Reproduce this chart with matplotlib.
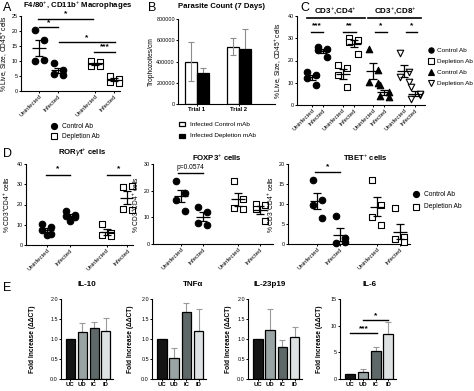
import numpy as np
import matplotlib
matplotlib.use('Agg')
import matplotlib.pyplot as plt
from matplotlib.lines import Line2D
from matplotlib.patches import Rectangle

plt.rcParams['font.family'] = ['Liberation Sans', 'DejaVu Sans']
plt.rcParams['mathtext.fontset'] = 'custom'
plt.rcParams['mathtext.rm'] = 'Liberation Sans'
plt.rcParams['mathtext.it'] = 'Liberation Sans:italic'
plt.rcParams['mathtext.bf'] = 'Liberation Sans:bold'

# ---------------- DATA ----------------
group_labels = ["Uninfected", "Infected"]
legend_ab = ["Control Ab", "Depletion Ab"]

# Panel A  (F4/80+, CD11b+ macrophages, % of CD45+)
A_ctrl_uninf = [20.3, 17.0, 10.0, 10.2]
A_ctrl_inf = [9.3, 7.0, 5.6, 5.5]
A_depl_uninf = [10.0, 9.6, 8.4, 8.2]
A_depl_inf = [5.0, 4.0, 3.0, 2.8]

# Panel B (parasite count)
B_trials = ["Trial 1", "Trial 2"]
B_ctrl = [400000, 540000]
B_ctrl_err = [185000, 80000]
B_depl = [290000, 520000]
B_depl_err = [50000, 190000]
B_legend = ["Infected Control mAb", "Infected Depletion mAb"]

# Panel C (CD4 / CD8)
C_cd4_ctrl_uninf = [14.8, 13.5, 12.0, 9.2]
C_cd4_ctrl_inf = [26.0, 25.0, 24.5, 21.6]
C_cd4_depl_uninf = [18.0, 16.6, 13.5, 8.0]
C_cd4_depl_inf = [30.0, 29.0, 28.4, 23.0]
C_cd8_ctrl_uninf = [25.0, 15.8, 10.2, 10.0]
C_cd8_ctrl_inf = [9.0, 6.0, 4.0, 3.6]
C_cd8_depl_uninf = [23.4, 15.0, 12.6, 10.4]
C_cd8_depl_inf = [8.0, 4.5, 2.7, 4.8]

# Panel D
ROR_ctrl_uninf = [10.5, 9.0, 7.5, 5.5, 5.0]
ROR_ctrl_inf = [17.0, 15.0, 14.5, 14.0, 12.0]
ROR_depl_uninf = [10.5, 6.0, 5.0, 4.5]
ROR_depl_inf = [28.5, 29.0, 18.0, 17.5]

FOX_ctrl_uninf = [23.5, 19.0, 16.5, 12.5]
FOX_ctrl_inf = [14.0, 12.0, 8.0, 7.0]
FOX_depl_uninf = [23.5, 17.0, 13.5, 13.0]
FOX_depl_inf = [15.0, 14.5, 13.0, 8.5]

TBET_ctrl_uninf = [16.0, 11.0, 9.7, 6.5]
TBET_ctrl_inf = [7.0, 1.5, 0.3, 0.5]
TBET_depl_uninf = [16.0, 9.8, 6.8, 4.8]
TBET_depl_inf = [9.0, 1.8, 1.2, 0.5]

# Panel E (fold increase)
E_groups = ["UC", "UD", "IC", "ID"]
E_titles = ["IL-10", "TNF\u03b1", "IL-23p19", "IL-6"]
IL10 = [1.0, 1.18, 1.27, 1.2]
IL10_err = [0.0, 0.22, 0.16, 0.33]
TNFa = [1.0, 0.52, 1.67, 1.2]
TNFa_err = [0.0, 0.25, 0.22, 0.56]
IL23 = [1.0, 1.22, 0.8, 1.05]
IL23_err = [0.0, 0.53, 0.17, 0.26]
IL6 = [1.0, 1.3, 5.3, 8.5]
IL6_err = [0.0, 0.5, 0.7, 2.1]
E_colors = ["#141414", "#9aa3a3", "#5e6868", "#dde1e1"]

# ---------------- FIGURE ----------------
W, H = 474, 391
fig = plt.figure(figsize=(W / 100, H / 100), dpi=100)


def pax(l, t, r, b):
    return fig.add_axes([l / W, 1 - b / H, (r - l) / W, (b - t) / H])


def fx(x):
    return x / W


def fy(y):
    return 1 - y / H


TICK = 3.9
LAB = 4.8


def style(ax):
    for s in ['top', 'right']:
        ax.spines[s].set_visible(False)
    for s in ['left', 'bottom']:
        ax.spines[s].set_linewidth(0.8)
    ax.tick_params(length=1.6, width=0.7, labelsize=TICK, pad=0.6)


def ylab(ax, text, right_px, l, r, bold=False):
    ax.set_ylabel(text, fontsize=LAB, fontweight='bold' if bold else 'normal')
    ax.yaxis.set_label_coords((right_px - l) / (r - l), 0.5)


def dots(ax, x, vals, marker, filled, u, ms=22):
    vals = np.asarray(vals, dtype=float)
    n = len(vals)
    pattern = np.resize([-1, 1, -1, 1, 0], n)
    offs = pattern * (4.5 / u)
    ax.scatter(x + offs, vals, s=ms, marker=marker,
               facecolor='black' if filled else 'white',
               edgecolor='black', linewidth=0.8, zorder=3, clip_on=False)
    m = vals.mean()
    sem = vals.std(ddof=1) / np.sqrt(n)
    hw, cw = 7.0 / u, 4.0 / u
    kw = dict(color='black', lw=0.9, zorder=4, solid_capstyle='butt')
    ax.plot([x - hw, x + hw], [m, m], **kw)
    ax.plot([x, x], [m - sem, m + sem], **kw)
    ax.plot([x - cw, x + cw], [m + sem, m + sem], **kw)
    ax.plot([x - cw, x + cw], [m - sem, m - sem], **kw)


def sig(ax, x1, x2, y, txt, dy, fs=6):
    ax.plot([x1, x2], [y, y], color='black', lw=1.0, clip_on=False)
    ax.text((x1 + x2) / 2, y + dy, txt, ha='center', va='center',
            fontsize=fs, fontweight='bold', clip_on=False)


def xlabels(ax, pos, labels):
    ax.set_xticks(pos)
    ax.set_xticklabels(labels, rotation=45, ha='right', rotation_mode='anchor',
                       fontsize=4.3)


# ---- Panel A ----
axA = pax(21, 16, 120, 91)
style(axA)
posA = [0, 1, 2.95, 3.95]
uA = 19
dots(axA, posA[0], A_ctrl_uninf, 'o', True, uA)
dots(axA, posA[1], A_ctrl_inf, 'o', True, uA)
dots(axA, posA[2], A_depl_uninf, 's', False, uA)
dots(axA, posA[3], A_depl_inf, 's', False, uA)
axA.set_xlim(-0.95, 4.26)
axA.set_ylim(0, 25)
axA.set_yticks([0, 5, 10, 15, 20, 25])
xlabels(axA, posA, group_labels * 2)
ylab(axA, r'% Live, Size, CD45$^{+}$ cells', 10, 21, 120)
sig(axA, -0.05, 2.85, 24.0, '*', 1.6)
sig(axA, 0, 1, 21.3, '*', 1.6)
sig(axA, 1.05, 4.0, 16.3, '*', 1.6)
sig(axA, 2.9, 4.0, 13.0, '***', 1.6)
fig.text(fx(78), fy(6), r'F4/80$^{+}$, CD11b$^{+}$ Macrophages', ha='center',
         va='center', fontsize=5.6, fontweight='bold')
fig.add_artist(Line2D([fx(54)], [fy(126)], marker='o', ms=4.2, color='black',
                      transform=fig.transFigure))
fig.add_artist(Line2D([fx(54)], [fy(136)], marker='s', ms=4.2, mfc='white',
                      mec='black', mew=0.8, transform=fig.transFigure))
fig.text(fx(62), fy(126), legend_ab[0], fontsize=LAB, va='center')
fig.text(fx(62), fy(136), legend_ab[1], fontsize=LAB, va='center')

# ---- Panel B ----
axB = pax(178, 19, 275, 104)
style(axB)
xB = np.arange(len(B_trials))
bw = 0.28
axB.bar(xB - bw / 2, B_ctrl, bw, color='white', edgecolor='black', lw=0.9, zorder=2)
axB.bar(xB + bw / 2, B_depl, bw, color='black', edgecolor='black', lw=0.9, zorder=2)
axB.errorbar(xB - bw / 2, B_ctrl, yerr=B_ctrl_err, fmt='none', ecolor='#8c8c8c',
             elinewidth=0.8, capsize=2, capthick=0.8, zorder=3)
axB.errorbar(xB + bw / 2, B_depl, yerr=B_depl_err, fmt='none', ecolor='#8c8c8c',
             elinewidth=0.8, capsize=2, capthick=0.8, zorder=1)
axB.set_xlim(-0.45, 1.86)
axB.set_ylim(0, 800000)
axB.set_yticks([0, 200000, 400000, 600000, 800000])
axB.set_yticklabels(['0', '200000', '400000', '600000', '800000'])
axB.set_xticks(xB)
axB.set_xticklabels(B_trials, fontsize=4.3, fontweight='bold')
ylab(axB, 'Trophozoites/cm', 155, 178, 275)
fig.text(fx(221), fy(6), 'Parasite Count (7 Days)', ha='center', va='center',
         fontsize=5.6, fontweight='bold')
fig.add_artist(Rectangle((fx(179), fy(126)), 6 / W, 4 / H, facecolor='white',
                         edgecolor='black', lw=0.9, transform=fig.transFigure))
fig.add_artist(Rectangle((fx(179), fy(138)), 6 / W, 4 / H, facecolor='black',
                         edgecolor='black', lw=0.9, transform=fig.transFigure))
fig.text(fx(190), fy(124), B_legend[0], fontsize=4.6, va='center')
fig.text(fx(190), fy(136), B_legend[1], fontsize=4.6, va='center')

# ---- Panel C ----
axC = pax(297, 16, 425, 105)
style(axC)
posC = [0, 1, 2.8, 3.8, 5.6, 6.6, 8.4, 9.4]
uC = 11
dots(axC, posC[0], C_cd4_ctrl_uninf, 'o', True, uC)
dots(axC, posC[1], C_cd4_ctrl_inf, 'o', True, uC)
dots(axC, posC[2], C_cd4_depl_uninf, 's', False, uC)
dots(axC, posC[3], C_cd4_depl_inf, 's', False, uC)
dots(axC, posC[4], C_cd8_ctrl_uninf, '^', True, uC)
dots(axC, posC[5], C_cd8_ctrl_inf, '^', True, uC)
dots(axC, posC[6], C_cd8_depl_uninf, 'v', False, uC)
dots(axC, posC[7], C_cd8_depl_inf, 'v', False, uC)
axC.set_xlim(-1.36, 10.3)
axC.set_ylim(0, 40)
axC.set_yticks([0, 10, 20, 30, 40])
xlabels(axC, posC, group_labels * 4)
ylab(axC, r'% Live, Size, CD45$^{+}$ cells', 284, 297, 425)
sig(axC, posC[0] - 0.1, posC[1], 33, '***', 2.7)
sig(axC, posC[2], posC[3] + 0.2, 33, '**', 2.7)
sig(axC, posC[4] + 0.1, posC[5] + 0.2, 33, '*', 2.7)
sig(axC, posC[6] + 0.2, posC[7] + 0.2, 33, '*', 2.7)
axC.plot([-0.45, 4.8], [39.2, 39.2], color='black', lw=1.2, clip_on=False)
axC.plot([5.1, 9.9], [39.2, 39.2], color='black', lw=1.2, clip_on=False)
fig.text(fx(335), fy(11), r'CD3$^{+}$,CD4$^{+}$', ha='center', va='center',
         fontsize=5.8, fontweight='bold')
fig.text(fx(395), fy(11), r'CD3$^{+}$,CD8$^{+}$', ha='center', va='center',
         fontsize=5.8, fontweight='bold')
legC = [('o', 'black'), ('s', 'white'), ('^', 'black'), ('v', 'white')]
for i, (mk, fc) in enumerate(legC):
    yy = 50 + i * 11
    fig.add_artist(Line2D([fx(431)], [fy(yy)], marker=mk, ms=3.8, mfc=fc,
                          mec='black', mew=0.8, color='black',
                          transform=fig.transFigure))
    fig.text(fx(437), fy(yy), legend_ab[i % 2], fontsize=4.6, va='center')

# ---- Panel D ----
uD = 22
posD = [0, 1.05, 2.7, 3.65]
axR = pax(26, 164, 133, 245)
style(axR)
dots(axR, posD[0], ROR_ctrl_uninf, 'o', True, uD)
dots(axR, posD[1], ROR_ctrl_inf, 'o', True, uD)
dots(axR, posD[2], ROR_depl_uninf, 's', False, uD)
dots(axR, posD[3], ROR_depl_inf, 's', False, uD)
axR.set_xlim(-0.95, 3.9)
axR.set_ylim(0, 40)
axR.set_yticks([0, 10, 20, 30, 40])
xlabels(axR, posD, group_labels * 2)
ylab(axR, r'% CD3$^{+}$CD4$^{+}$ cells', 12, 26, 133)
sig(axR, -0.05, 1.05, 34.6, '*', 3.0)
sig(axR, 2.7, 3.75, 34.6, '*', 3.0)
fig.text(fx(82), fy(153), r'ROR$\gamma$t$^{+}$ cells', ha='center', va='center',
         fontsize=5.6, fontweight='bold')

posF = [0, 1, 2.6, 3.6]
axF = pax(153, 164, 273, 244)
style(axF)
dots(axF, posF[0], FOX_ctrl_uninf, 'o', True, uD)
dots(axF, posF[1], FOX_ctrl_inf, 'o', True, uD)
dots(axF, posF[2], FOX_depl_uninf, 's', False, uD)
dots(axF, posF[3], FOX_depl_inf, 's', False, uD)
axF.set_xlim(-1.27, 4.18)
axF.set_ylim(0, 30)
axF.set_yticks([0, 10, 20, 30])
xlabels(axF, posF, group_labels * 2)
ylab(axF, r'% CD3$^{+}$CD4$^{+}$ cells', 141, 153, 273)
axF.plot([-0.15, 1.0], [26.5, 26.5], color='black', lw=1.0, clip_on=False)
axF.text(0.42, 28.6, 'p=0.0574', ha='center', va='center', fontsize=4.8)
fig.text(fx(217), fy(158), r'FOXP3$^{+}$ cells', ha='center', va='center',
         fontsize=5.6, fontweight='bold')

axT = pax(288, 164, 410, 244)
style(axT)
uT = 23
dots(axT, posF[0], TBET_ctrl_uninf, 'o', True, uT)
dots(axT, posF[1], TBET_ctrl_inf, 'o', True, uT)
dots(axT, posF[2], TBET_depl_uninf, 's', False, uT)
dots(axT, posF[3], TBET_depl_inf, 's', False, uT)
axT.set_xlim(-1.26, 4.04)
axT.set_ylim(0, 20)
axT.set_yticks([0, 5, 10, 15, 20])
xlabels(axT, posF, group_labels * 2)
ylab(axT, r'% CD3$^{+}$CD4$^{+}$ cells', 276, 288, 410)
sig(axT, -0.1, 1.0, 18.0, '*', 1.4)
fig.text(fx(365), fy(158), r'TBET$^{+}$ cells', ha='center', va='center',
         fontsize=5.6, fontweight='bold')
fig.add_artist(Line2D([fx(416)], [fy(194)], marker='o', ms=4.2, color='black',
                      transform=fig.transFigure))
fig.add_artist(Line2D([fx(416)], [fy(207)], marker='s', ms=4.2, mfc='white',
                      mec='black', mew=0.8, transform=fig.transFigure))
fig.text(fx(424), fy(194), legend_ab[0], fontsize=LAB, va='center')
fig.text(fx(424), fy(207), legend_ab[1], fontsize=LAB, va='center')

# ---- Panel E ----
E_vals = [IL10, TNFa, IL23, IL6]
E_errs = [IL10_err, TNFa_err, IL23_err, IL6_err]
E_boxes = [(61, 113), (152, 206), (248, 302), (340, 396)]
E_title_x = [87, 193, 270, 370]
E_ylab_r = [36, 134, 232, 323]
xE = np.arange(len(E_groups))
for k in range(4):
    l, r = E_boxes[k]
    ax = pax(l, 299, r, 379)
    style(ax)
    ax.bar(xE, E_vals[k], 0.77, color=E_colors, edgecolor='black', lw=0.9, zorder=2)
    ax.errorbar(xE, E_vals[k], yerr=[np.zeros(4), E_errs[k]], fmt='none',
                ecolor='#9a9a9a', elinewidth=0.8, capsize=2, capthick=0.8, zorder=1)
    ax.set_xlim(-0.8, 3.6)
    if k < 3:
        ax.set_ylim(0, 2.0)
        ax.set_yticks([0, 0.5, 1.0, 1.5, 2.0])
        ax.set_yticklabels(['0.0', '0.5', '1.0', '1.5', '2.0'])
    else:
        ax.set_ylim(0, 15)
        ax.set_yticks([0, 5, 10, 15])
    ax.set_xticks(xE)
    ax.set_xticklabels(E_groups, fontsize=4.3, fontweight='bold')
    ylab(ax, 'Fold Increase (\u0394\u0394CT)', E_ylab_r[k], l, r, bold=True)
    fig.text(fx(E_title_x[k]), fy(285), E_titles[k], ha='center', va='center',
             fontsize=5.8, fontweight='bold')
    if k == 3:
        sig(ax, 0, 2.1, 8.6, '***', 0.9)
        sig(ax, 1.0, 3.0, 11.0, '*', 0.9)

# Panel letters
for letter, x, y in [('A', 3, 8), ('B', 148, 8), ('C', 300, 8), ('D', 3, 154), ('E', 3, 288)]:
    fig.text(fx(x), fy(y), letter, fontsize=9, va='center', ha='left')

fig.savefig('out.png', dpi=100)
